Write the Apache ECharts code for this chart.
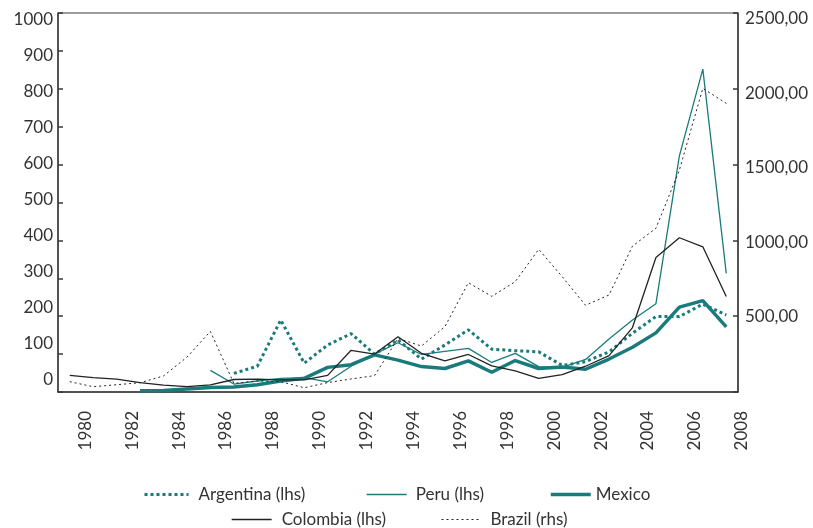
<!DOCTYPE html>
<html>
<head>
<meta charset="utf-8">
<script src="https://cdn.jsdelivr.net/npm/echarts@6/dist/echarts.min.js"></script>
<style>
html,body{margin:0;padding:0;background:#fff;}
#chart{width:813px;height:528px;}
</style>
</head>
<body>
<div id="chart"></div>
<script>
const years = ['1980','1981','1982','1983','1984','1985','1986','1987','1988','1989','1990','1991','1992','1993','1994','1995','1996','1997','1998','1999','2000','2001','2002','2003','2004','2005','2006','2007','2008'];
const argentina = [null,null,null,null,null,null,null,49,68,190,76,124,154,100,137,87,124,164,113,109,106,70,80,106,155,199,199,232,203];
const peru = [null,null,null,null,null,null,57,21,29,36,38,27,68,100,130,99,107,115,78,102,67,65,86,140,190,233,623,852,313];
const mexico = [null,null,null,3,4,8,12,13,19,29,36,65,72,98,84,67,62,82,52,83,62,66,60,87,118,156,224,241,172];
const colombia = [44,38,34,25,18,14,19,33,34,32,32,44,110,100,146,102,82,99,69,56,36,46,68,96,170,355,407,383,252];
const brazil = [68,35,48,61,106,230,400,57,73,68,28,62,86,108,354,303,431,721,631,728,941,761,572,640,962,1080,1464,2003,1904];
const leftTicks = [0,100,200,300,400,500,600,700,800,900,1000];
const rightTicks = [500,1000,1500,2000,2500];

const TEAL = '#197b7b';
const DARK = '#222222';
const AXIS = '#3a3a3a';
const TXT = '#333333';
const FONT = 'Lato';

const chart = echarts.init(document.getElementById('chart'));

function legendAt(name, left, top, width, lw, color, type, pad) {
  return {
    data: [name], left: left, top: top, orient: 'horizontal', padding: 0,
    itemWidth: width, itemHeight: 14, selectedMode: false,
    itemStyle: { opacity: 0 },
    lineStyle: { width: lw, color: color, type: type },
    textStyle: { fontFamily: FONT, fontSize: 17, color: TXT, padding: [0,0,0,pad] }
  };
}

chart.setOption({
  animation: false,
  grid: { left: 58, right: 75, top: 13, bottom: 136, show: true, borderColor: AXIS, borderWidth: 1 },
  legend: [
    legendAt('Argentina (lhs)', 143, 486, 44, 3, TEAL, [3,3], 5),
    legendAt('Peru (lhs)', 366, 486, 40, 1.3, TEAL, 'solid', 4),
    legendAt('Mexico', 549, 486, 40, 3.5, TEAL, 'solid', 0),
    legendAt('Colombia (lhs)', 231, 511, 40, 1.3, DARK, 'solid', 5),
    legendAt('Brazil (rhs)', 441, 511, 40, 1, DARK, [2,3], 4)
  ],
  xAxis: {
    type: 'category', data: years, boundaryGap: true,
    axisLine: { lineStyle: { color: AXIS, width: 1.5 } },
    axisTick: { interval: 1, inside: true, length: 5, lineStyle: { color: AXIS, width: 1.5 } },
    axisLabel: { interval: 1, rotate: 90, margin: 19, fontFamily: FONT, fontSize: 17, color: TXT,
                 verticalAlign: 'top', lineHeight: 31 },
    splitLine: { show: false }
  },
  yAxis: [
    { type: 'value', position: 'left', min: 0, max: 1000, interval: 100,
      axisLine: { show: true, lineStyle: { color: AXIS, width: 1.5 } },
      axisTick: { show: true, inside: true, length: 5, lineStyle: { color: AXIS, width: 1.5 } },
      axisLabel: { show: false }, splitLine: { show: false } },
    { type: 'value', position: 'right', min: 0, max: 2500, interval: 500,
      axisLine: { show: true, lineStyle: { color: AXIS, width: 1.5 } },
      axisTick: { show: true, inside: true, length: 5, lineStyle: { color: AXIS, width: 1.5 } },
      axisLabel: { show: false }, splitLine: { show: false } },
    { type: 'value', position: 'left', min: -35.2, max: 1016.7,
      axisLine: { show: false }, axisTick: { show: false }, splitLine: { show: false },
      axisLabel: { customValues: leftTicks, margin: 5, fontFamily: FONT, fontSize: 17, color: TXT,
                   formatter: function (v) { return String(v); } } },
    { type: 'value', position: 'right', min: -3.4, max: 2540.2,
      axisLine: { show: false }, axisTick: { show: false }, splitLine: { show: false },
      axisLabel: { customValues: rightTicks, margin: 7, fontFamily: FONT, fontSize: 17, color: TXT,
                   formatter: function (v) { return v + ',00'; } } }
  ],
  series: [
    { name: 'Argentina (lhs)', type: 'line', yAxisIndex: 0, data: argentina, symbol: 'none',
      itemStyle: { color: TEAL }, lineStyle: { color: TEAL, width: 3, type: [3,3] } },
    { name: 'Peru (lhs)', type: 'line', yAxisIndex: 0, data: peru, symbol: 'none',
      itemStyle: { color: TEAL }, lineStyle: { color: TEAL, width: 1.3 } },
    { name: 'Mexico', type: 'line', yAxisIndex: 0, data: mexico, symbol: 'none',
      itemStyle: { color: TEAL }, lineStyle: { color: TEAL, width: 3.5 } },
    { name: 'Colombia (lhs)', type: 'line', yAxisIndex: 0, data: colombia, symbol: 'none',
      itemStyle: { color: DARK }, lineStyle: { color: DARK, width: 1.3 } },
    { name: 'Brazil (rhs)', type: 'line', yAxisIndex: 1, data: brazil, symbol: 'none',
      itemStyle: { color: DARK }, lineStyle: { color: DARK, width: 1, type: [2,3] } }
  ]
});
</script>
</body>
</html>
